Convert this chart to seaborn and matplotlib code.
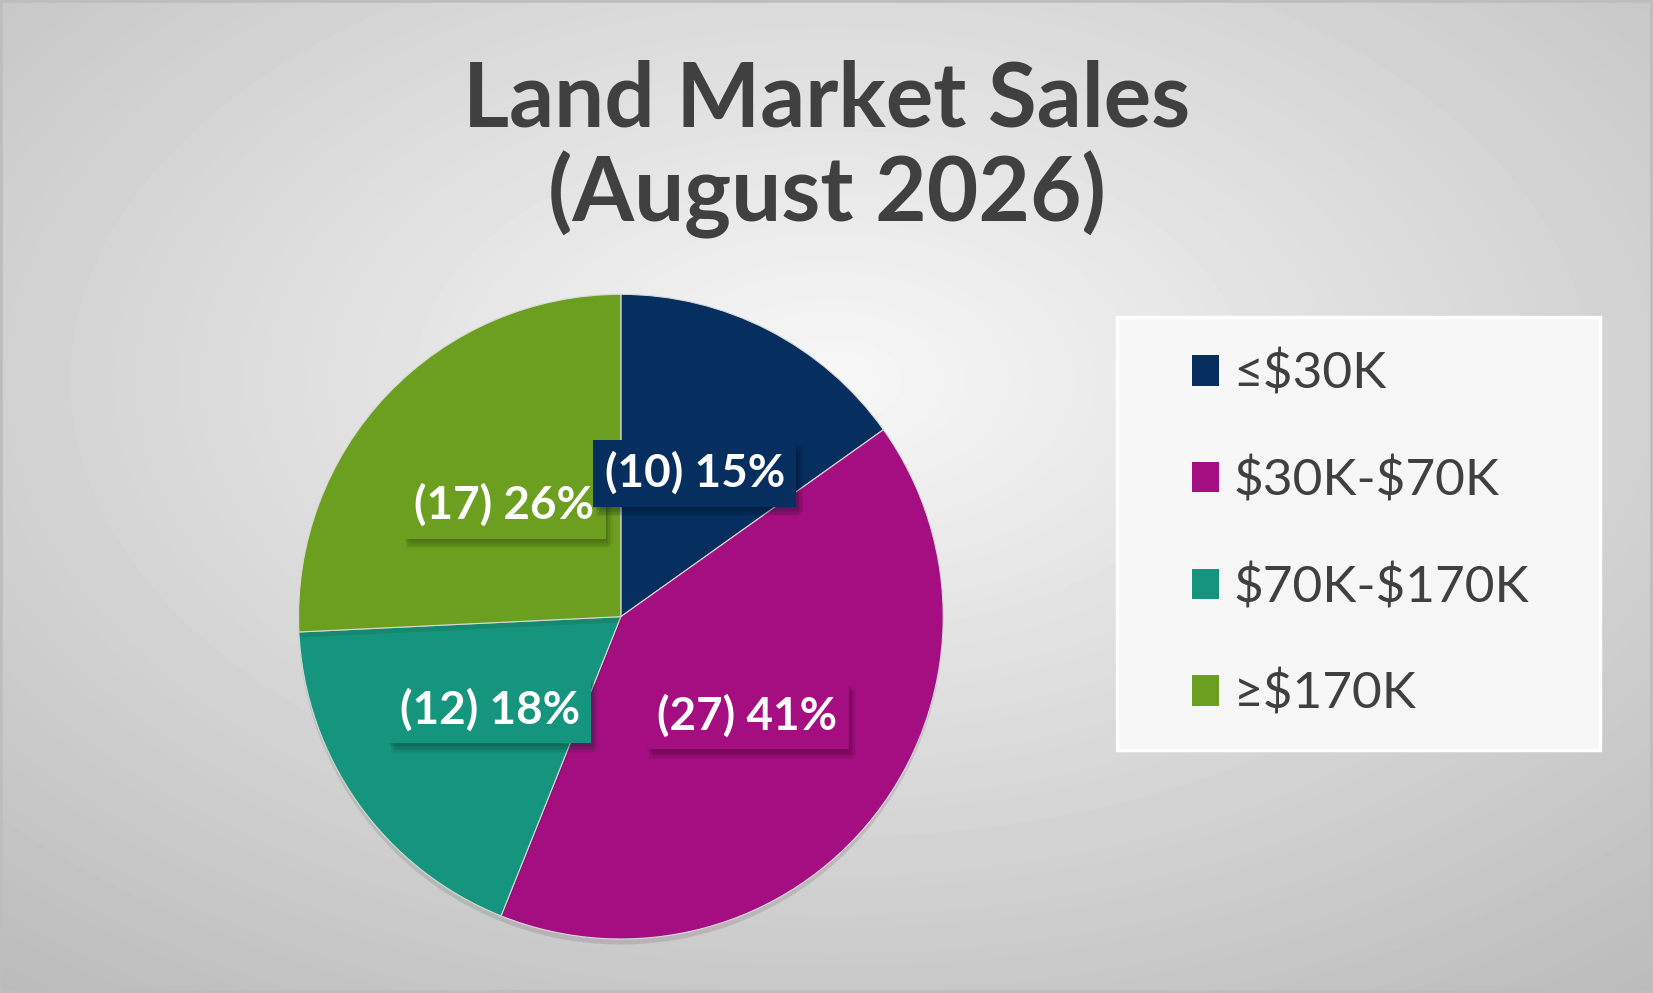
import numpy as np
import matplotlib
matplotlib.use("Agg")
import matplotlib.pyplot as plt
import matplotlib.patheffects as pe
from matplotlib.patches import Patch, Rectangle
import seaborn as sns

# chart data
categories = ["≤$30K", "$30K-$70K", "$70K-$170K", "≥$170K"]
sales = [10, 27, 12, 17]
colors = ["#062E5F", "#A40E80", "#15957D", "#6C9F20"]
title = "Land Market Sales\n(August 2026)"

sns.set_theme(style="white")
plt.rcParams["font.family"] = ["Lato", "DejaVu Sans"]

fig = plt.figure(figsize=(16.53, 9.93), dpi=100)

# radial grey background
bg = fig.add_axes([0, 0, 1, 1], zorder=-10)
yy, xx = np.mgrid[0:993, 0:1653]
d = np.sqrt(((xx - 830) / 1653) ** 2 + ((yy - 380) / 993) ** 2)
shade = np.clip(0.97 - 0.30 * d, 0, 1)
bg.imshow(shade, cmap="gray", vmin=0, vmax=1, aspect="auto", extent=[0, 1, 0, 1])
bg.add_patch(Rectangle((0, 0), 1, 1, transform=bg.transAxes, fill=False,
                       edgecolor="#bdbdbd", linewidth=4))
bg.set_axis_off()

fig.text(0.50, 0.777, title, ha="center", va="baseline", fontsize=64,
         fontweight="bold", color="#404040", linespacing=1.13)

ax = fig.add_axes([0.1806, 0.054, 0.390, 0.650])
total = sum(sales)
pal = sns.color_palette(colors)
wedges, texts, autotexts = ax.pie(
    sales, colors=pal, startangle=90, counterclock=False,
    autopct=lambda p: f"({round(p * total / 100)}) {p:.0f}%",
    pctdistance=0.5, radius=1.0,
    wedgeprops=dict(edgecolor="#d9d9d9", linewidth=0.8),
    textprops=dict(color="white", fontsize=33, fontweight="bold"))
ax.set_xlim(-1, 1)
ax.set_ylim(-1, 1)
ax.set_aspect("equal")

for w in wedges:
    w.set_path_effects([pe.SimplePatchShadow(offset=(0, -4), alpha=0.12), pe.Normal()])

# soft shadow behind each label box
soft = [pe.SimplePatchShadow(offset=(dx, dy), alpha=0.07)
        for dx, dy in [(1, -2), (2, -3), (3, -5), (4, -6), (2, -7), (5, -4)]]
order_z = [10, 6, 7, 5]
for t, c, z in zip(autotexts, colors, order_z):
    t.set_bbox(dict(boxstyle="square,pad=0.25", facecolor=c, edgecolor="none"))
    t.get_bbox_patch().set_path_effects(soft + [pe.Normal()])
    t.set_zorder(z)

# legend panel
fig.patches.append(Rectangle((0.676, 0.245), 0.292, 0.436, transform=fig.transFigure,
                             facecolor="#f7f7f7", edgecolor="white", linewidth=2.5,
                             zorder=1))
handles = [Patch(facecolor=c, edgecolor="none") for c in colors]
labels = [c.replace("$", r"\$") for c in categories]
leg = fig.legend(handles, labels, loc="center left", bbox_to_anchor=(0.721, 0.462),
                 frameon=False, fontsize=37, handlelength=0.53, handleheight=0.53,
                 handletextpad=0.28, labelspacing=1.16, borderpad=0, borderaxespad=0)
for txt in leg.get_texts():
    txt.set_color("#404040")

fig.savefig("out.png", dpi=100)
